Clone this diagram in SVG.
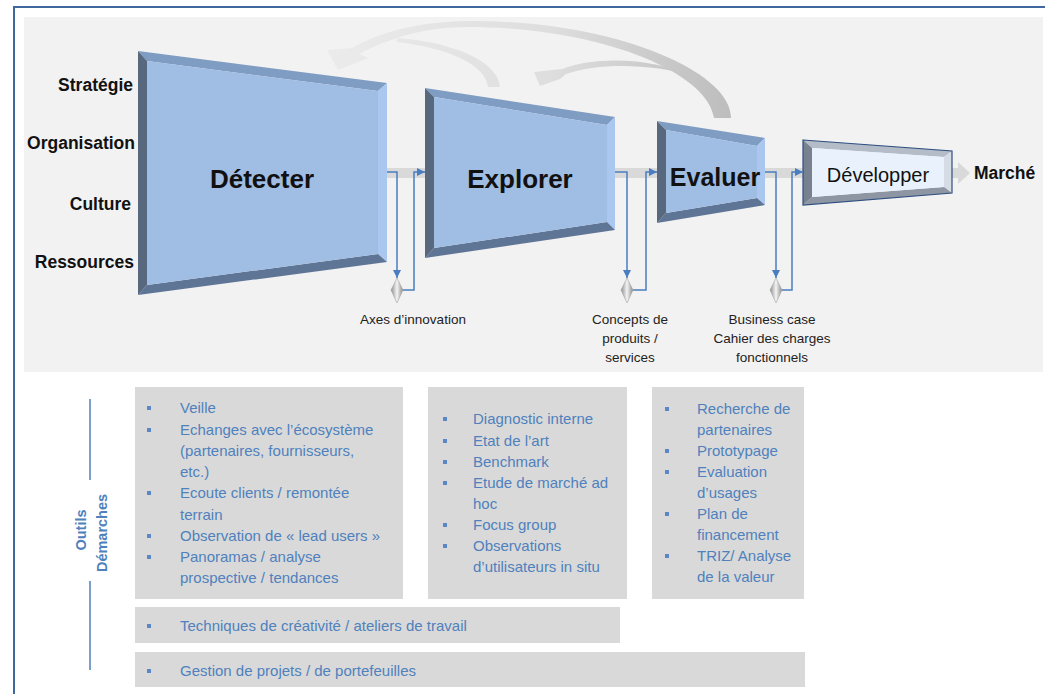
<svg xmlns="http://www.w3.org/2000/svg" width="1045" height="694" viewBox="0 0 1045 694">
<style>
text{font-family:"Liberation Sans",Arial,sans-serif;}
.lbl{font-weight:bold;font-size:17.5px;fill:#111;text-anchor:end;}
.ttl{font-weight:bold;font-size:26px;fill:#111;text-anchor:middle;}
.note{font-size:13.5px;fill:#222;text-anchor:middle;}
.bl{font-size:15px;fill:#4f81bd;}
.vt{font-size:14.5px;font-weight:bold;fill:#4f81bd;text-anchor:middle;}
.box{fill:#d9d9d9;}
.bul{fill:#5b87c7;}
.conn{stroke:#4a7dc0;stroke-width:1.5;fill:none;}
.ft{fill:#7f9cc2}.fr{fill:#aac8ef}.fb{fill:#5f7596}.fl{fill:#58697f}.fc{fill:#a0bde3}
.dt{fill:#b4bcc8}.dr{fill:#d5dce6}.db{fill:#8e96a3}.dl{fill:#77818f}.dc{fill:#e9f2fc}
.dia{fill:url(#silver);stroke:#9a9a9a;stroke-width:0.5;}
</style>
<defs>
<linearGradient id="silver" x1="0" y1="0" x2="1" y2="0">
<stop offset="0" stop-color="#8f8f8f"/><stop offset="0.5" stop-color="#f4f4f4"/><stop offset="1" stop-color="#8a8a8a"/>
</linearGradient>
<linearGradient id="arcg" gradientUnits="userSpaceOnUse" x1="330" y1="0" x2="730" y2="0">
<stop offset="0" stop-color="#ebebeb"/><stop offset="0.55" stop-color="#dedede"/><stop offset="1" stop-color="#bdbdbd"/>
</linearGradient>
<marker id="ah" viewBox="0 0 10 10" refX="10" refY="5" markerWidth="8" markerHeight="8" markerUnits="userSpaceOnUse" orient="auto">
<path d="M0,0 L10,5 L0,10 Z" fill="#4a7dc0"/>
</marker>
</defs>

<rect x="0" y="0" width="1045" height="694" fill="#ffffff"/>
<rect x="24" y="17" width="1019" height="355" fill="#f2f2f2"/>
<line x1="13" y1="7" x2="1045" y2="7" stroke="#41679f" stroke-width="2"/>
<line x1="14" y1="6" x2="14" y2="694" stroke="#41679f" stroke-width="2"/>

<g id="feedback-arcs">
<path d="M731,118 C732,72 615,20 468,21 C418,22 383,31 352,48 L327,50 L338,70 L368,58 L359,54 C390,38 425,27 468,27 C600,27 708,72 714,118 Z" fill="url(#arcg)"/>
<path d="M500,87 C498,60 450,42 398,38 L396,42 C445,47 486,64 488,87 Z" fill="url(#arcg)"/>
<path d="M692,76 C660,60 600,54 562,69 L534,72 L540,86 L560,79 L566,74 C600,62 655,64 692,76 Z" fill="url(#arcg)"/>
</g>

<g id="flow-band">
<rect x="385" y="168" width="575" height="10" fill="#d9d9d9"/>
<polygon points="958,162 970,173 958,184" fill="#d9d9d9"/>
</g>

<g id="labels-left">
<text class="lbl" x="133" y="91">Stratégie</text>
<text class="lbl" x="135" y="149">Organisation</text>
<text class="lbl" x="131" y="210">Culture</text>
<text class="lbl" x="134" y="268">Ressources</text>
</g>

<g id="detecter">
<polygon class="ft" points="138,51 387,83 378,91 147,61"/>
<polygon class="fr" points="387,83 387,262 378,254 378,91"/>
<polygon class="fb" points="387,262 138,295 147,285 378,254"/>
<polygon class="fl" points="138,295 138,51 147,61 147,285"/>
<polygon class="fc" points="147,61 378,91 378,254 147,285"/>
<text class="ttl" x="262" y="188">Détecter</text>
</g>

<g id="explorer">
<polygon class="ft" points="425,88 615,117 607,125 434,97"/>
<polygon class="fr" points="615,117 615,230 607,222 607,125"/>
<polygon class="fb" points="615,230 425,258 434,248 607,222"/>
<polygon class="fl" points="425,258 425,88 434,97 434,248"/>
<polygon class="fc" points="434,97 607,125 607,222 434,248"/>
<text class="ttl" x="520" y="188">Explorer</text>
</g>

<g id="evaluer">
<polygon class="ft" points="657,121 765,138 757,146 666,130"/>
<polygon class="fr" points="765,138 765,205 757,198 757,146"/>
<polygon class="fb" points="765,205 657,223 666,213 757,198"/>
<polygon class="fl" points="657,223 657,121 666,130 666,213"/>
<polygon class="fc" points="666,130 757,146 757,198 666,213"/>
<text class="ttl" x="715" y="186" style="font-size:25px">Evaluer</text>
</g>

<g id="developper">
<polygon class="dt" points="803,140 952,151 944,157 812,148"/>
<polygon class="dr" points="952,151 952,193 944,187 944,157"/>
<polygon class="db" points="952,193 803,205 812,197 944,187"/>
<polygon class="dl" points="803,205 803,140 812,148 812,197"/>
<polygon class="dc" points="812,148 944,157 944,187 812,197"/>
<polygon points="803,140 952,151 952,193 803,205" fill="none" stroke="#2e4f80" stroke-width="1.2"/>
<text x="878" y="182" style="font-size:20px;fill:#111;text-anchor:middle">Développer</text>
</g>

<g id="marche">
<text x="974" y="179" style="font-weight:bold;font-size:17.5px;fill:#111">Marché</text>
</g>

<g id="connectors">
<path class="conn" d="M387,172 H397 V278" marker-end="url(#ah)"/>
<path class="conn" d="M403,290 H414 V172 H425" marker-end="url(#ah)"/>
<path class="conn" d="M615,172 H627 V278" marker-end="url(#ah)"/>
<path class="conn" d="M633,290 H646 V172 H657" marker-end="url(#ah)"/>
<path class="conn" d="M765,172 H776 V278" marker-end="url(#ah)"/>
<path class="conn" d="M782,290 H792 V172 H803" marker-end="url(#ah)"/>
</g>

<g id="milestone-axes">
<polygon class="dia" points="397,278 403,290 397,303 391,290"/>
<text class="note" x="413" y="324">Axes d’innovation</text>
</g>
<g id="milestone-concepts">
<polygon class="dia" points="627,278 633,290 627,303 621,290"/>
<text class="note" x="630" y="324">Concepts de</text>
<text class="note" x="630" y="343">produits /</text>
<text class="note" x="630" y="362">services</text>
</g>
<g id="milestone-business">
<polygon class="dia" points="776,278 782,290 776,303 770,290"/>
<text class="note" x="772" y="324">Business case</text>
<text class="note" x="772" y="343">Cahier des charges</text>
<text class="note" x="772" y="362">fonctionnels</text>
</g>

<g id="outils-demarches">
<line x1="90" y1="399" x2="90" y2="480" stroke="#4f81bd" stroke-width="1.5"/>
<line x1="90" y1="581" x2="90" y2="670" stroke="#4f81bd" stroke-width="1.5"/>
<text class="vt" transform="translate(86,530) rotate(-90)">Outils</text>
<text class="vt" transform="translate(107,533) rotate(-90)">Démarches</text>
</g>

<g id="box-detecter">
<rect class="box" x="135" y="387" width="268" height="212"/>
<rect class="bul" x="147" y="406" width="4" height="4"/>
<rect class="bul" x="147" y="428" width="4" height="4"/>
<rect class="bul" x="147" y="491" width="4" height="4"/>
<rect class="bul" x="147" y="534" width="4" height="4"/>
<rect class="bul" x="147" y="555" width="4" height="4"/>
<text class="bl" x="180" y="413">Veille</text>
<text class="bl" x="180" y="435">Echanges avec l’écosystème</text>
<text class="bl" x="180" y="456">(partenaires, fournisseurs,</text>
<text class="bl" x="180" y="477">etc.)</text>
<text class="bl" x="180" y="498">Ecoute clients / remontée</text>
<text class="bl" x="180" y="520">terrain</text>
<text class="bl" x="180" y="541">Observation de « lead users »</text>
<text class="bl" x="180" y="562">Panoramas / analyse</text>
<text class="bl" x="180" y="583">prospective / tendances</text>
</g>

<g id="box-explorer">
<rect class="box" x="428" y="387" width="199" height="212"/>
<rect class="bul" x="443" y="417" width="4" height="4"/>
<rect class="bul" x="443" y="439" width="4" height="4"/>
<rect class="bul" x="443" y="460" width="4" height="4"/>
<rect class="bul" x="443" y="481" width="4" height="4"/>
<rect class="bul" x="443" y="523" width="4" height="4"/>
<rect class="bul" x="443" y="544" width="4" height="4"/>
<text class="bl" x="473" y="424">Diagnostic interne</text>
<text class="bl" x="473" y="446">Etat de l’art</text>
<text class="bl" x="473" y="467">Benchmark</text>
<text class="bl" x="473" y="488">Etude de marché ad</text>
<text class="bl" x="473" y="509">hoc</text>
<text class="bl" x="473" y="530">Focus group</text>
<text class="bl" x="473" y="551">Observations</text>
<text class="bl" x="473" y="572">d’utilisateurs in situ</text>
</g>

<g id="box-evaluer">
<rect class="box" x="652" y="387" width="152" height="212"/>
<rect class="bul" x="665" y="407" width="4" height="4"/>
<rect class="bul" x="665" y="449" width="4" height="4"/>
<rect class="bul" x="665" y="470" width="4" height="4"/>
<rect class="bul" x="665" y="512" width="4" height="4"/>
<rect class="bul" x="665" y="554" width="4" height="4"/>
<text class="bl" x="697" y="414">Recherche de</text>
<text class="bl" x="697" y="435">partenaires</text>
<text class="bl" x="697" y="456">Prototypage</text>
<text class="bl" x="697" y="477">Evaluation</text>
<text class="bl" x="697" y="498">d’usages</text>
<text class="bl" x="697" y="519">Plan de</text>
<text class="bl" x="697" y="540">financement</text>
<text class="bl" x="697" y="561">TRIZ/ Analyse</text>
<text class="bl" x="697" y="582">de la valeur</text>
</g>

<g id="box-creativite">
<rect class="box" x="135" y="607" width="485" height="36"/>
<rect class="bul" x="147" y="624" width="4" height="4"/>
<text class="bl" x="180" y="631">Techniques de créativité / ateliers de travail</text>
</g>

<g id="box-gestion">
<rect class="box" x="135" y="652" width="670" height="35"/>
<rect class="bul" x="147" y="669" width="4" height="4"/>
<text class="bl" x="180" y="676">Gestion de projets / de portefeuilles</text>
</g>
</svg>
